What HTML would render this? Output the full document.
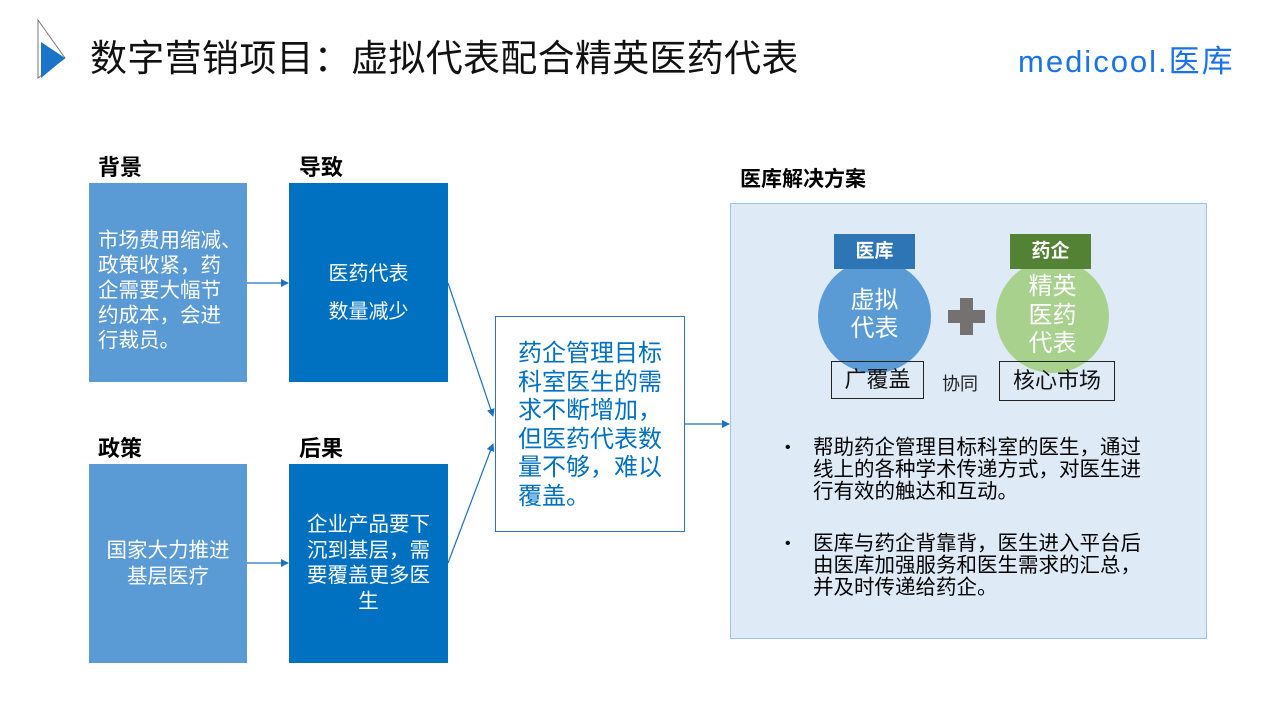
<!DOCTYPE html>
<html><head><meta charset="utf-8"><style>
*{margin:0;padding:0;box-sizing:border-box}
body{width:1280px;height:720px;background:#fff;position:relative;overflow:hidden;font-family:"Liberation Sans","Noto Sans CJK SC",sans-serif}
.a{position:absolute}
.box{position:absolute;color:#fff;font-size:20.5px;line-height:25px}
.lbl{position:absolute;font-size:22px;font-weight:bold;color:#000}
.bul{position:absolute;left:813px;font-size:20.5px;line-height:22px;color:#000;width:390px}
.bul:before{content:"•";position:absolute;left:-28px;font-size:16px}
</style></head><body>
<svg class="a" style="left:0;top:0" width="1280" height="720">
<polygon points="38,20 65,58 38,78" fill="#fff" stroke="#777" stroke-width="1"/>
<polygon points="41,42 65,58 41,78" fill="#1a74c8"/>
<defs><marker id="m" markerWidth="8" markerHeight="8" refX="7" refY="4" orient="auto" markerUnits="userSpaceOnUse"><path d="M0,0 L8,4 L0,8z" fill="#1f70c0"/></marker></defs>
<g stroke="#1f70c0" stroke-width="1.2" fill="none">
<line x1="247" y1="283" x2="288" y2="283" marker-end="url(#m)"/>
<line x1="247" y1="563" x2="288" y2="563" marker-end="url(#m)"/>
<line x1="448" y1="283" x2="493" y2="416" marker-end="url(#m)"/>
<line x1="448" y1="563" x2="493" y2="444" marker-end="url(#m)"/>
<line x1="684" y1="424" x2="729" y2="424" marker-end="url(#m)"/>
</g>
</svg>
<div class="a" style="left:90px;top:28px;font-size:37px;color:#111;letter-spacing:0.3px">数字营销项目：虚拟代表配合精英医药代表</div>
<div class="a" style="left:1018px;top:36px;font-size:31px;color:#1a73e8;letter-spacing:2px">medicool.医库</div>

<div class="lbl" style="left:98px;top:150px">背景</div>
<div class="lbl" style="left:299px;top:150px">导致</div>
<div class="lbl" style="left:98px;top:431px">政策</div>
<div class="lbl" style="left:299px;top:431px">后果</div>

<div class="box" style="left:89px;top:183px;width:158px;height:199px;background:#5b9bd5;padding:45px 0 0 9px">市场费用缩减、<br>政策收紧，药<br>企需要大幅节<br>约成本，会进<br>行裁员。</div>
<div class="box" style="left:289px;top:183px;width:159px;height:199px;background:#0070c0;text-align:center;padding-top:72px;line-height:38px;font-size:20px">医药代表<br>数量减少</div>
<div class="box" style="left:89px;top:464px;width:158px;height:199px;background:#5b9bd5;text-align:center;padding-top:74px;line-height:26px">国家大力推进<br>基层医疗</div>
<div class="box" style="left:289px;top:464px;width:159px;height:199px;background:#0070c0;text-align:center;padding-top:48px;line-height:25.5px">企业产品要下<br>沉到基层，需<br>要覆盖更多医<br>生</div>

<div class="a" style="left:495px;top:316px;width:190px;height:216px;border:1.3px solid #2e75b6;color:#0070c0;font-size:24px;line-height:28.5px;padding:23px 0 0 22px">药企管理目标<br>科室医生的需<br>求不断增加，<br>但医药代表数<br>量不够，难以<br>覆盖。</div>

<div class="lbl" style="left:740px;top:163px;font-size:21px">医库解决方案</div>
<div class="a" style="left:730px;top:203px;width:477px;height:436px;background:#deebf7;border:1px solid #9dc3e6"></div>
<div class="a" style="left:818px;top:260px;width:113px;height:113px;border-radius:50%;background:#5b9bd5"></div>
<div class="a" style="left:996px;top:260px;width:113px;height:113px;border-radius:50%;background:#a9d18e"></div>
<div class="a" style="left:834px;top:234px;width:81px;height:35px;background:#2e75b6;color:#fff;font-weight:bold;font-size:19px;text-align:center;line-height:35px">医库</div>
<div class="a" style="left:1010px;top:234px;width:81px;height:35px;background:#548235;color:#fff;font-weight:bold;font-size:19px;text-align:center;line-height:35px">药企</div>
<div class="a" style="left:818px;top:287px;width:113px;text-align:center;color:#fff;font-size:24px;line-height:28px">虚拟<br>代表</div>
<div class="a" style="left:996px;top:273px;width:113px;text-align:center;color:#fff;font-size:24px;line-height:28.5px">精英<br>医药<br>代表</div>
<div class="a" style="left:948px;top:310px;width:37px;height:13px;background:#767171"></div>
<div class="a" style="left:960px;top:298px;width:13px;height:37px;background:#767171"></div>
<div class="a" style="left:831px;top:361px;width:93px;height:38px;border:1px solid #222;font-size:22px;text-align:center;line-height:36px;color:#111">广覆盖</div>
<div class="a" style="left:942px;top:370px;font-size:18px;color:#222">协同</div>
<div class="a" style="left:999px;top:361px;width:116px;height:40px;border:1px solid #222;font-size:22px;text-align:center;line-height:38px;color:#111">核心市场</div>

<div class="bul" style="top:437px">帮助药企管理目标科室的医生，通过<br>线上的各种学术传递方式，对医生进<br>行有效的触达和互动。</div>
<div class="bul" style="top:533px">医库与药企背靠背，医生进入平台后<br>由医库加强服务和医生需求的汇总，<br>并及时传递给药企。</div>
</body></html>
